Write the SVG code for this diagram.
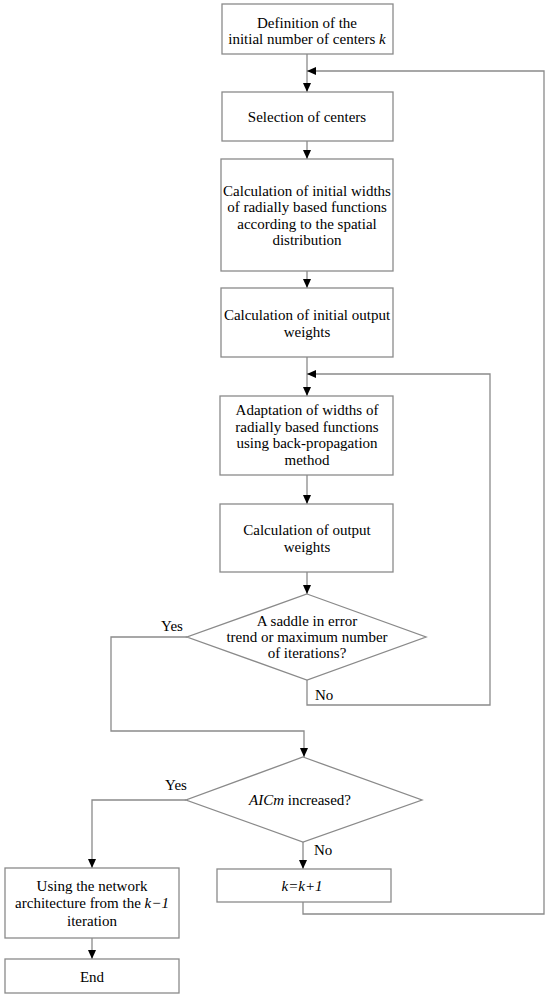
<svg xmlns="http://www.w3.org/2000/svg" width="550" height="998" viewBox="0 0 550 998">
<style>
.box{fill:#fff;stroke:#8a8a8a;stroke-width:1.3}
.ln{fill:none;stroke:#8a8a8a;stroke-width:1.3}
text{font-family:"Liberation Serif","Times New Roman",serif;font-size:15px;fill:#000;text-anchor:middle}
.it{font-style:italic}
.l{text-anchor:start}
</style>
<defs>
<marker id="ah" markerUnits="userSpaceOnUse" markerWidth="9" markerHeight="8" refX="9" refY="4" orient="auto">
<path d="M0,0 L9,4 L0,8 Z" fill="#000"/>
</marker>
</defs>
<rect width="550" height="998" fill="#fff"/>
<g id="connectors">
<path class="ln" d="M307,54 V92" marker-end="url(#ah)"/>
<path class="ln" d="M303,902 V914 H544 V71 H307" marker-end="url(#ah)"/>
<path class="ln" d="M307,141 V159" marker-end="url(#ah)"/>
<path class="ln" d="M307,271 V288" marker-end="url(#ah)"/>
<path class="ln" d="M307,357 V396" marker-end="url(#ah)"/>
<path class="ln" d="M307,680 V705 H490 V374 H307" marker-end="url(#ah)"/>
<path class="ln" d="M307,475 V504" marker-end="url(#ah)"/>
<path class="ln" d="M307,572 V594" marker-end="url(#ah)"/>
<path class="ln" d="M187,637 H111 V731 H304 V757" marker-end="url(#ah)"/>
<path class="ln" d="M186,800 H92 V868" marker-end="url(#ah)"/>
<path class="ln" d="M92,938 V959" marker-end="url(#ah)"/>
<path class="ln" d="M303,842 V869" marker-end="url(#ah)"/>
</g>
<g id="n1">
<rect class="box" x="222" y="4" width="171" height="50"/>
<text x="307" y="28">Definition of the</text>
<text x="307" y="44">initial number of centers <tspan class="it">k</tspan></text>
</g>
<g id="n2">
<rect class="box" x="222" y="92" width="171" height="49"/>
<text x="307" y="122">Selection of centers</text>
</g>
<g id="n3">
<rect class="box" x="221" y="159" width="172" height="112"/>
<text x="307" y="196">Calculation of initial widths</text>
<text x="307" y="212">of radially based functions</text>
<text x="307" y="229">according to the spatial</text>
<text x="307" y="245">distribution</text>
</g>
<g id="n4">
<rect class="box" x="221" y="288" width="172" height="69"/>
<text x="307" y="320">Calculation of initial output</text>
<text x="307" y="337">weights</text>
</g>
<g id="n5">
<rect class="box" x="220" y="396" width="173" height="79"/>
<text x="307" y="415">Adaptation of widths of</text>
<text x="307" y="432">radially based functions</text>
<text x="307" y="448">using back-propagation</text>
<text x="307" y="465">method</text>
</g>
<g id="n6">
<rect class="box" x="220" y="504" width="173" height="68"/>
<text x="307" y="535">Calculation of output</text>
<text x="307" y="552">weights</text>
</g>
<g id="d1">
<polygon class="box" points="307,594 426,637 307,680 187,637"/>
<text x="307" y="626">A saddle in error</text>
<text x="307" y="642">trend or maximum number</text>
<text x="307" y="658">of iterations?</text>
<text x="172" y="631">Yes</text>
<text class="l" x="315" y="700">No</text>
</g>
<g id="d2">
<polygon class="box" points="303,757 422,800 303,842 186,800"/>
<text x="300" y="805"><tspan class="it">AICm</tspan> increased?</text>
<text x="176" y="790">Yes</text>
<text class="l" x="314" y="855">No</text>
</g>
<g id="n7">
<rect class="box" x="5" y="868" width="174" height="70"/>
<text x="92" y="891">Using the network</text>
<text x="92" y="908">architecture from the <tspan class="it">k−1</tspan></text>
<text x="92" y="926">iteration</text>
</g>
<g id="n8">
<rect class="box" x="5" y="959" width="174" height="34"/>
<text x="92" y="982">End</text>
</g>
<g id="n9">
<rect class="box" x="217" y="869" width="174" height="33"/>
<text x="302" y="891" class="it">k=k+1</text>
</g>
</svg>
